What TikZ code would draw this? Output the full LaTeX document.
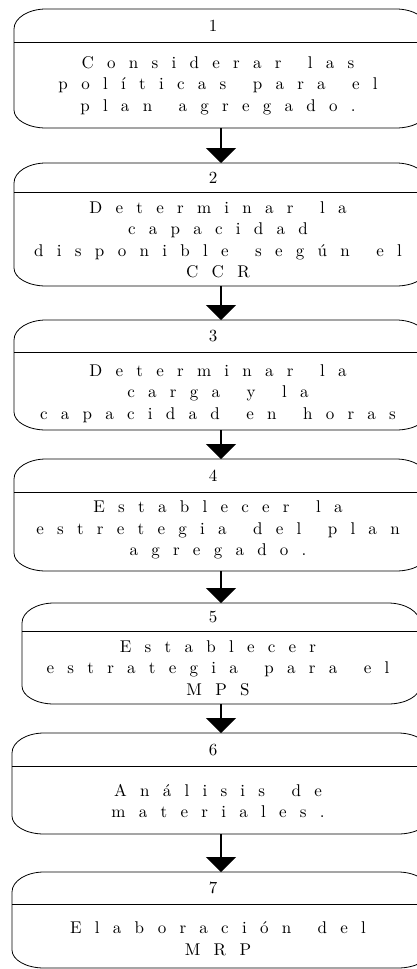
\documentclass[tikz,border=0pt]{standalone}
\usepackage{fontspec}
\usepackage{tikz}
\usetikzlibrary{arrows.meta,calc}

\newfontfamily\lmespaciada[LetterSpace=78,WordSpace=1.4]{lmroman10-regular.otf}
\newcommand{\espaciado}{\lmespaciada\fontsize{17pt}{21.5pt}\selectfont}

% contorno de cada paso: esquinas redondeadas ovaladas
\newcommand{\marco}[1]{%
  \draw[linea] ($(#1.north west)+(0,-20pt)$)
    .. controls +(0,11pt) and +(-17.7pt,0) .. ($(#1.north west)+(32pt,0)$)
    -- ($(#1.north east)+(-32pt,0)$)
    .. controls +(17.7pt,0) and +(0,11pt) .. ($(#1.north east)+(0,-20pt)$)
    -- ($(#1.south east)+(0,18pt)$)
    .. controls +(0,-10pt) and +(17.7pt,0) .. ($(#1.south east)+(-32pt,0)$)
    -- ($(#1.south west)+(32pt,0)$)
    .. controls +(-17.7pt,0) and +(0,-10pt) .. ($(#1.south west)+(0,18pt)$)
    -- cycle;}

\tikzset{
  linea/.style={line width=0.8pt},
  paso/.style={inner sep=0pt, outer sep=0pt, minimum width=414pt},
  num/.style={inner sep=0pt, font=\espaciado, anchor=north, xshift=-8pt},
  txt/.style={inner sep=0pt, font=\espaciado, align=center},
  flecha/.style={-{Triangle[width=30pt,length=15pt]}, line width=1.2pt}
}

\begin{document}
\begin{tikzpicture}[x=1pt,y=-1pt]
\path (0,0) rectangle (417,969);
\begin{scope}[overlay]
\clip (0,0) rectangle (417,969);

% pasos
\node[paso, minimum height=119pt] (s1) at (221,68.5) {};
\node[paso, minimum height=123pt] (s2) at (221,224.5) {};
\node[paso, minimum height=110pt] (s3) at (221,375) {};
\node[paso, minimum height=112pt] (s4) at (221,515) {};
\node[paso, minimum height=101pt, minimum width=398pt] (s5) at (221,653.5) {};
\node[paso, minimum height=101pt, minimum width=418pt] (s6) at (221,783.5) {};
\node[paso, minimum height=96pt, minimum width=418pt] (s7) at (221,920) {};

\marco{s1}
\marco{s2}
\marco{s3}
\marco{s4}
\marco{s5}
\marco{s6}
\marco{s7}

% numeros
\node[num, minimum height=33pt] (n1) at (s1.north) {1};
\node[num, minimum height=29pt] (n2) at (s2.north) {2};
\node[num, minimum height=32pt] (n3) at (s3.north) {3};
\node[num, minimum height=33pt] (n4) at (s4.north) {4};
\node[num, minimum height=28pt] (n5) at (s5.north) {5};
\node[num, minimum height=33pt] (n6) at (s6.north) {6};
\node[num, minimum height=32pt] (n7) at (s7.north) {7};

\draw[linea] (s1.west |- n1.south) -- (s1.east |- n1.south);
\draw[linea] (s2.west |- n2.south) -- (s2.east |- n2.south);
\draw[linea] (s3.west |- n3.south) -- (s3.east |- n3.south);
\draw[linea] (s4.west |- n4.south) -- (s4.east |- n4.south);
\draw[linea] (s5.west |- n5.south) -- (s5.east |- n5.south);
\draw[linea] (s6.west |- n6.south) -- (s6.east |- n6.south);
\draw[linea] (s7.west |- n7.south) -- (s7.east |- n7.south);

% textos
\node[txt] (t1) at (218,85.5) {Considerar las\\políticas para el\\plan agregado.};
\node[txt] (t2) at (218,240) {Determinar la\\capacidad\\disponible según el\\CCR};
\node[txt] (t3) at (218,393.5) {Determinar la\\carga y la\\capacidad en horas};
\node[txt] (t4) at (218,530) {Establecer la\\estretegia del plan\\agregado.};
\node[txt] (t5) at (218,668) {Establecer\\estrategia para el\\MPS};
\node[txt] (t6) at (218,801) {Análisis de\\materiales.};
\node[txt] (t7) at (218,938.5) {Elaboración del\\MRP};

% flechas
\draw[flecha] (s1) -- (s2);
\draw[flecha] (s2) -- (s3);
\draw[flecha] (s3) -- (s4);
\draw[flecha] (s4) -- (s5);
\draw[flecha] (s5) -- (s6);
\draw[flecha] (s6) -- (s7);
\end{scope}
\end{tikzpicture}
\end{document}
